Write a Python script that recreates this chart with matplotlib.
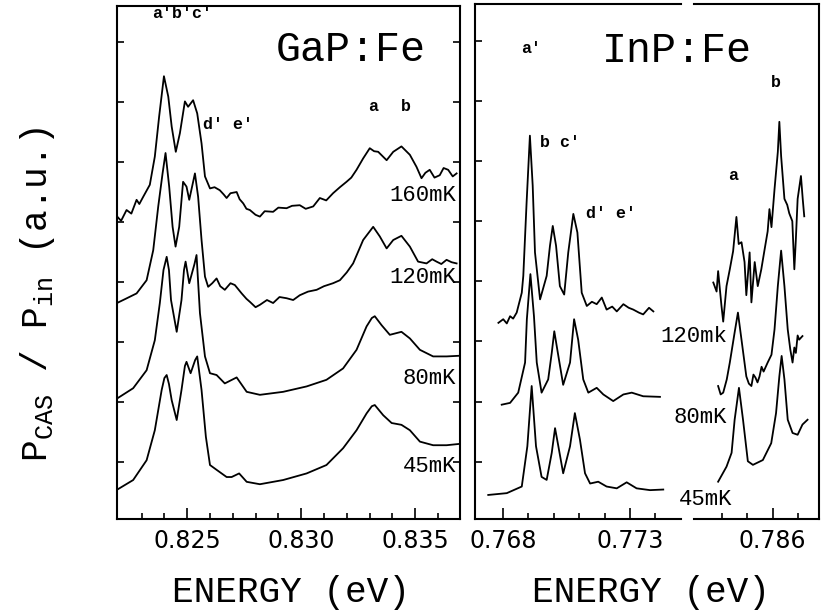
import numpy as np
import matplotlib.pyplot as plt

plt.rcParams['mathtext.fontset'] = 'custom'
plt.rcParams['mathtext.rm'] = 'Liberation Mono'
plt.rcParams['mathtext.it'] = 'Liberation Mono'

MONO = 'Liberation Mono'

# GaP:Fe spectra (energy in eV, intensity in a.u.)
gap_160_e = [0.82193, 0.82210, 0.82234, 0.82255, 0.82278, 0.82290, 0.82307, 0.82336, 0.82358,
             0.82377, 0.82398, 0.82417, 0.82432, 0.82450, 0.82468, 0.82490, 0.82504, 0.82526,
             0.82544, 0.82563, 0.82578, 0.82600, 0.82620, 0.82643, 0.82660, 0.82673, 0.82690,
             0.82717, 0.82730, 0.82746, 0.82760, 0.82775, 0.82800, 0.82819, 0.82840, 0.82877,
             0.82900, 0.82936, 0.82960, 0.82994, 0.83020, 0.83053, 0.83082, 0.83110, 0.83140,
             0.83170, 0.83199, 0.83220, 0.83243, 0.83272, 0.83301, 0.83320, 0.83338, 0.83375,
             0.83404, 0.83440, 0.83477, 0.83506, 0.83528, 0.83545, 0.83564, 0.83585, 0.83608,
             0.83625, 0.83645, 0.83665, 0.83682]
gap_160_i = [4.09, 4.02, 4.20, 4.14, 4.37, 4.30, 4.42, 4.62, 5.09,
             5.76, 6.43, 6.09, 5.59, 5.17, 5.48, 6.01, 5.92, 6.03,
             5.81, 5.31, 4.76, 4.56, 4.58, 4.53, 4.46, 4.40, 4.48,
             4.50, 4.38, 4.31, 4.22, 4.20, 4.12, 4.09, 4.18, 4.17,
             4.24, 4.23, 4.27, 4.28, 4.22, 4.26, 4.40, 4.36, 4.48,
             4.58, 4.67, 4.74, 4.87, 5.06, 5.23, 5.18, 5.17, 5.03,
             5.17, 5.26, 5.12, 4.92, 4.73, 4.82, 4.87, 4.74, 4.78,
             4.90, 4.87, 4.76, 4.81]

gap_120_e = [0.82192, 0.82230, 0.82278, 0.82300, 0.82322, 0.82351, 0.82373, 0.82392, 0.82405,
             0.82421, 0.82436, 0.82449, 0.82465, 0.82482, 0.82497, 0.82509, 0.82534, 0.82548,
             0.82563, 0.82578, 0.82592, 0.82610, 0.82629, 0.82645, 0.82665, 0.82690, 0.82709,
             0.82739, 0.82760, 0.82775, 0.82800, 0.82819, 0.82850, 0.82877, 0.82905, 0.82936,
             0.82965, 0.82994, 0.83030, 0.83068, 0.83100, 0.83140, 0.83170, 0.83200, 0.83228,
             0.83272, 0.83316, 0.83345, 0.83375, 0.83404, 0.83440, 0.83477, 0.83513, 0.83550,
             0.83575, 0.83594, 0.83615, 0.83638, 0.83660, 0.83682]
gap_120_i = [2.65, 2.72, 2.81, 2.92, 3.03, 3.53, 4.26, 4.81, 5.15,
             4.59, 3.92, 3.59, 3.92, 4.67, 4.59, 4.37, 4.81, 4.42,
             3.70, 3.09, 2.92, 2.98, 3.06, 2.93, 2.87, 2.98, 2.95,
             2.81, 2.72, 2.67, 2.58, 2.62, 2.70, 2.65, 2.75, 2.73,
             2.70, 2.78, 2.84, 2.87, 2.93, 2.98, 3.03, 3.16, 3.31,
             3.70, 3.92, 3.76, 3.56, 3.70, 3.77, 3.59, 3.34, 3.31,
             3.38, 3.34, 3.30, 3.37, 3.33, 3.31]

gap_80_e = [0.82193, 0.82263, 0.82322, 0.82358, 0.82380, 0.82396, 0.82410, 0.82420, 0.82429,
            0.82454, 0.82475, 0.82486, 0.82493, 0.82509, 0.82532, 0.82541, 0.82556, 0.82578,
            0.82600, 0.82629, 0.82665, 0.82717, 0.82761, 0.82819, 0.82921, 0.83024, 0.83111,
            0.83184, 0.83243, 0.83287, 0.83310, 0.83323, 0.83353, 0.83389, 0.83440, 0.83477,
            0.83521, 0.83579, 0.83638, 0.83689]
gap_80_i = [1.06, 1.23, 1.53, 2.03, 2.65, 3.20, 3.42, 3.20, 2.70,
            2.17, 2.70, 3.20, 3.34, 2.98, 3.30, 3.45, 2.48, 1.76,
            1.48, 1.45, 1.31, 1.41, 1.17, 1.12, 1.17, 1.26, 1.37,
            1.56, 1.87, 2.26, 2.40, 2.43, 2.28, 2.12, 2.17, 2.06,
            1.87, 1.76, 1.76, 1.77]

gap_45_e = [0.82193, 0.82263, 0.82322, 0.82358, 0.82388, 0.82400, 0.82410, 0.82420, 0.82432,
            0.82454, 0.82475, 0.82490, 0.82497, 0.82515, 0.82535, 0.82544, 0.82563, 0.82582,
            0.82600, 0.82629, 0.82673, 0.82695, 0.82728, 0.82761, 0.82819, 0.82921, 0.83024,
            0.83111, 0.83184, 0.83243, 0.83287, 0.83310, 0.83323, 0.83360, 0.83397, 0.83440,
            0.83477, 0.83521, 0.83579, 0.83638, 0.83689]
gap_45_i = [-0.46, -0.30, 0.03, 0.53, 1.20, 1.40, 1.45, 1.30, 1.03,
            0.70, 1.20, 1.60, 1.67, 1.48, 1.70, 1.76, 1.20, 0.42,
            -0.05, -0.13, -0.25, -0.25, -0.19, -0.33, -0.37, -0.30, -0.19,
            -0.05, 0.23, 0.53, 0.81, 0.93, 0.95, 0.78, 0.65, 0.62,
            0.53, 0.34, 0.28, 0.28, 0.30]

# InP:Fe spectra, lower energy window
inp_120_e = [0.76782, 0.76801, 0.76815, 0.76828, 0.76840, 0.76854, 0.76874, 0.76880, 0.76893,
             0.76906, 0.76917, 0.76926, 0.76946, 0.76972, 0.76985, 0.76996, 0.77009, 0.77024,
             0.77041, 0.77057, 0.77077, 0.77093, 0.77110, 0.77130, 0.77150, 0.77169, 0.77189,
             0.77208, 0.77230, 0.77248, 0.77274, 0.77295, 0.77313, 0.77335, 0.77352, 0.77375,
             0.77392]
inp_120_i = [2.31, 2.37, 2.30, 2.42, 2.38, 2.48, 2.81, 3.09, 4.31,
             5.42, 4.59, 3.48, 2.70, 3.09, 3.59, 3.92, 3.59, 2.92,
             2.78, 3.48, 4.12, 3.81, 2.81, 2.59, 2.66, 2.62, 2.73,
             2.53, 2.58, 2.50, 2.62, 2.56, 2.53, 2.48, 2.45, 2.56,
             2.50]

inp_80_e = [0.76795, 0.76828, 0.76860, 0.76887, 0.76894, 0.76908, 0.76922, 0.76933, 0.76952,
            0.76978, 0.76992, 0.77002, 0.77018, 0.77037, 0.77064, 0.77080, 0.77096, 0.77116,
            0.77136, 0.77169, 0.77195, 0.77234, 0.77274, 0.77307, 0.77352, 0.77418]
inp_80_i = [0.95, 0.98, 1.15, 1.65, 2.37, 3.12, 2.42, 1.65, 1.15,
            1.37, 1.81, 2.17, 1.76, 1.28, 1.65, 2.37, 2.03, 1.37,
            1.15, 1.23, 1.12, 1.01, 1.12, 1.15, 1.09, 1.08]

inp_45_e = [0.76742, 0.76815, 0.76874, 0.76896, 0.76913, 0.76930, 0.76952, 0.76972, 0.76992,
            0.77005, 0.77018, 0.77037, 0.77064, 0.77083, 0.77103, 0.77123, 0.77143, 0.77175,
            0.77208, 0.77248, 0.77287, 0.77326, 0.77379, 0.77431]
inp_45_i = [-0.55, -0.52, -0.41, 0.26, 1.26, 0.26, -0.25, -0.30, 0.15,
            0.56, 0.26, -0.19, 0.26, 0.81, 0.37, -0.19, -0.36, -0.33,
            -0.41, -0.44, -0.34, -0.44, -0.47, -0.46]

# InP:Fe spectra, upper energy window
inp_120_e2 = [0.78366, 0.78379, 0.78385, 0.78398, 0.78405, 0.78418, 0.78431, 0.78444, 0.78457,
              0.78466, 0.78477, 0.78489, 0.78496, 0.78509, 0.78516, 0.78529, 0.78541, 0.78555,
              0.78568, 0.78580, 0.78587, 0.78595, 0.78607, 0.78620, 0.78626, 0.78633, 0.78646,
              0.78657, 0.78665, 0.78677, 0.78685, 0.78691, 0.78698, 0.78711, 0.78718, 0.78724]
inp_120_i2 = [2.98, 2.83, 3.17, 2.60, 2.33, 2.92, 3.20, 3.50, 4.07,
              3.62, 3.65, 3.32, 2.77, 3.48, 2.65, 3.32, 2.92, 3.20,
              3.53, 3.83, 4.20, 3.90, 4.53, 5.15, 5.65, 5.08, 4.37,
              4.27, 4.13, 4.00, 3.20, 3.70, 4.37, 4.75, 4.37, 4.08]

inp_80_e2 = [0.78385, 0.78395, 0.78405, 0.78419, 0.78431, 0.78450, 0.78463, 0.78477, 0.78496,
             0.78506, 0.78516, 0.78524, 0.78532, 0.78540, 0.78548, 0.78556, 0.78564, 0.78580,
             0.78595, 0.78607, 0.78620, 0.78633, 0.78646, 0.78659, 0.78669, 0.78678, 0.78685,
             0.78691, 0.78698, 0.78704, 0.78717]
inp_80_i2 = [1.26, 1.12, 1.15, 1.37, 1.65, 2.15, 2.48, 2.03, 1.42,
             1.30, 1.26, 1.45, 1.40, 1.32, 1.42, 1.58, 1.50, 1.65,
             1.78, 2.20, 2.92, 3.51, 2.92, 2.20, 1.87, 1.65, 1.90,
             1.81, 2.10, 2.03, 2.09]

inp_45_e2 = [0.78385, 0.78418, 0.78438, 0.78450, 0.78467, 0.78483, 0.78502, 0.78522, 0.78561,
             0.78594, 0.78613, 0.78626, 0.78635, 0.78646, 0.78659, 0.78678, 0.78698, 0.78717,
             0.78737]
inp_45_i2 = [-0.33, -0.08, 0.15, 0.70, 1.23, 0.70, 0.01, -0.05, 0.03,
             0.31, 0.81, 1.42, 1.76, 1.37, 0.70, 0.48, 0.45, 0.62,
             0.70]

gap_xticks = [0.823, 0.824, 0.825, 0.826, 0.827, 0.828, 0.829, 0.830,
              0.831, 0.832, 0.833, 0.834, 0.835, 0.836]
gap_xlabels = ['0.825', '0.830', '0.835']
inp_xticks = [0.768, 0.769, 0.770, 0.771, 0.772, 0.773, 0.774]
inp_xlabels = ['0.768', '0.773']
inp_xticks2 = [0.784, 0.785, 0.786, 0.787]
inp_xlabels2 = ['0.786']
y_ticks = [0, 1, 2, 3, 4, 5, 6, 7]

YLIM = (-0.95, 7.6)
LW = 1.3


def style_axis(ax, major, minor, labels):
    ax.set_xticks(minor, minor=True)
    ax.set_xticks(major)
    ax.set_xticklabels(labels, fontsize=17, fontfamily='DejaVu Sans')
    ax.tick_params(axis='x', which='major', direction='in', length=8, width=1.2, pad=7)
    ax.tick_params(axis='x', which='minor', direction='in', length=4, width=1.2)
    ax.set_ylim(*YLIM)
    for s in ax.spines.values():
        s.set_linewidth(1.5)


fig = plt.figure(figsize=(8.25, 6.13), dpi=100)

# GaP:Fe panel
ax1 = fig.add_axes([0.1418, 0.1533, 0.4158, 0.8369])
for e, i in [(gap_160_e, gap_160_i), (gap_120_e, gap_120_i),
             (gap_80_e, gap_80_i), (gap_45_e, gap_45_i)]:
    ax1.plot(e, i, color='black', lw=LW)
ax1.set_xlim(0.82192, 0.83697)
style_axis(ax1, [0.825, 0.830, 0.835], gap_xticks, gap_xlabels)
ax1.set_yticks(y_ticks)
ax1.set_yticklabels([])
ax1.tick_params(axis='y', direction='in', length=5, width=1.2, left=True, right=True)

ax1.text(0.82477, 7.47, "a'b'c'", fontfamily=MONO, fontweight='bold', fontsize=12,
         ha='center', va='center')
ax1.text(0.83218, 6.87, 'GaP:Fe', fontfamily=MONO, fontsize=30, ha='center', va='center')
ax1.text(0.82679, 5.63, "d' e'", fontfamily=MONO, fontweight='bold', fontsize=12,
         ha='center', va='center')
ax1.text(0.83314, 5.93, 'a', fontfamily=MONO, fontweight='bold', fontsize=12,
         ha='center', va='center')
ax1.text(0.83459, 5.93, 'b', fontfamily=MONO, fontweight='bold', fontsize=12,
         ha='center', va='center')
for lab, y in [('160mK', 4.45), ('120mK', 3.07), ('80mK', 1.40), ('45mK', -0.07)]:
    ax1.text(0.83679, y, lab, fontfamily=MONO, fontsize=16, ha='right', va='center')

# InP:Fe panel, two energy windows
ax3 = fig.add_axes([0.8412, 0.1533, 0.1515, 0.8394])
ax3.patch.set_visible(False)
for e, i in [(inp_120_e2, inp_120_i2), (inp_80_e2, inp_80_i2), (inp_45_e2, inp_45_i2)]:
    ax3.plot(e, i, color='black', lw=LW)
ax3.set_xlim(0.78290, 0.78782)
style_axis(ax3, [0.786], inp_xticks2, inp_xlabels2)
ax3.set_yticks([])
ax3.spines['left'].set_visible(False)

ax2 = fig.add_axes([0.5758, 0.1533, 0.2497, 0.8394])
ax2.patch.set_visible(False)
for e, i in [(inp_120_e, inp_120_i), (inp_80_e, inp_80_i), (inp_45_e, inp_45_i)]:
    ax2.plot(e, i, color='black', lw=LW)
ax2.set_xlim(0.76690, 0.77501)
style_axis(ax2, [0.768, 0.773], inp_xticks, inp_xlabels)
ax2.set_yticks(y_ticks)
ax2.set_yticklabels([])
ax2.tick_params(axis='y', direction='in', length=5, width=1.2, left=True, right=False)
ax2.spines['right'].set_visible(False)

ax2.text(0.76911, 6.87, "a'", fontfamily=MONO, fontweight='bold', fontsize=12,
         ha='center', va='center')
ax2.text(0.77485, 6.83, 'InP:Fe', fontfamily=MONO, fontsize=30, ha='center', va='center')
ax2.text(0.77024, 5.30, "b c'", fontfamily=MONO, fontweight='bold', fontsize=12,
         ha='center', va='center')
ax2.text(0.77225, 4.12, "d' e'", fontfamily=MONO, fontweight='bold', fontsize=12,
         ha='center', va='center')
ax3.text(0.78446, 4.75, 'a', fontfamily=MONO, fontweight='bold', fontsize=12,
         ha='center', va='center')
ax3.text(0.78614, 6.30, 'b', fontfamily=MONO, fontweight='bold', fontsize=12,
         ha='center', va='center')
for lab, x, y in [('120mk', 0.77682, 2.08), ('80mK', 0.77682, 0.73), ('45mK', 0.77702, -0.63)]:
    ax2.text(x, y, lab, fontfamily=MONO, fontsize=16, ha='right', va='center')

# axis titles
fig.text(291 / 825, 1 - 592 / 613, 'ENERGY (eV)', fontfamily=MONO, fontsize=26,
         ha='center', va='center')
fig.text(651 / 825, 1 - 592 / 613, 'ENERGY (eV)', fontfamily=MONO, fontsize=26,
         ha='center', va='center')
fig.text(38 / 825, 1 - 295 / 613, r'$\mathrm{P_{CAS}}$ / $\mathrm{P_{in}}$ (a.u.)',
         fontfamily=MONO, fontsize=26, rotation=90, ha='center', va='center')

fig.savefig('out.png', dpi=100)
